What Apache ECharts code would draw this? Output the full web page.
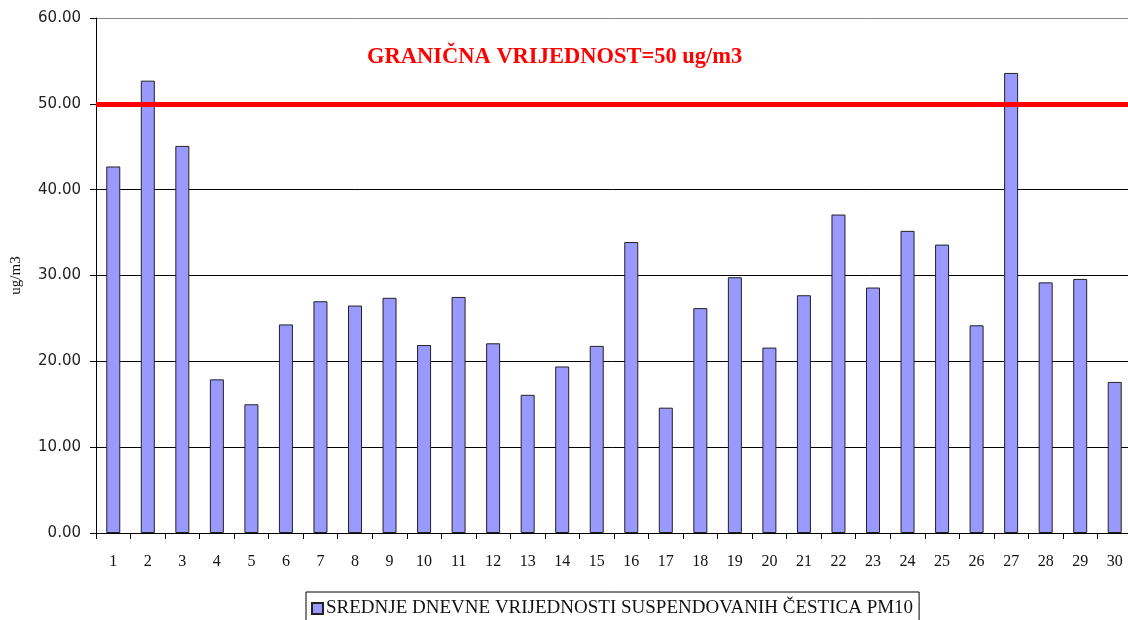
<!DOCTYPE html>
<html>
<head>
<meta charset="utf-8">
<title>PM10</title>
<script src="https://cdn.jsdelivr.net/npm/echarts@6/dist/echarts.min.js"></script>
<style>
  html, body { margin: 0; padding: 0; background: #fff; }
  #chart { width: 1128px; height: 620px; }
</style>
</head>
<body>
<div id="chart"></div>
<script>
// days of the month
var days = [];
for (var d = 1; d <= 30; d++) days.push(String(d));

// daily mean PM10 (ug/m3)
var pm10 = [
  42.7, 52.7, 45.1, 17.9, 15.0, 24.3, 27.0, 26.5, 27.4, 21.9,
  27.5, 22.1, 16.1, 19.4, 21.8, 33.9, 14.6, 26.2, 29.8, 21.6,
  27.7, 37.1, 28.6, 35.2, 33.6, 24.2, 53.6, 29.2, 29.6, 17.6
];

var limitValue = 50;
var seriesName = "SREDNJE DNEVNE VRIJEDNOSTI SUSPENDOVANIH ČESTICA PM10";
var limitText = "GRANIČNA VRIJEDNOST=50 ug/m3";

var chart = echarts.init(document.getElementById("chart"));

chart.setOption({
  animation: false,
  backgroundColor: "#fff",
  title: {
    text: limitText,
    left: 367,
    top: 46,
    padding: 0,
    textStyle: {
      fontFamily: "Liberation Serif",
      fontWeight: "bold",
      fontSize: 22.5,
      color: "#ff0000"
    }
  },
  grid: {
    left: 96,
    top: 18,
    width: 1036,
    height: 515,
    outerBoundsMode: "none"
  },
  legend: {
    data: [seriesName],
    left: 306,
    top: 592,
    padding: [7, 6, 12, 5],
    borderColor: "#000",
    borderWidth: 1,
    borderRadius: 0,
    itemWidth: 11,
    itemHeight: 11,
    itemGap: 4,
    icon: "rect",
    textStyle: {
      fontFamily: "Liberation Serif",
      fontSize: 19,
      color: "#111",
      padding: [0, 0, 0, -2]
    }
  },
  xAxis: {
    type: "category",
    data: days,
    axisLine: { lineStyle: { color: "#000", width: 1 } },
    axisTick: {
      show: true,
      length: 6,
      lineStyle: { color: "#000" }
    },
    axisLabel: {
      margin: 21,
      fontFamily: "Liberation Serif",
      fontSize: 16,
      color: "#111"
    }
  },
  yAxis: {
    type: "value",
    min: 0,
    max: 60,
    interval: 10,
    name: "ug/m3",
    nameLocation: "middle",
    nameGap: 72,
    nameRotate: 90,
    nameTextStyle: {
      fontFamily: "Liberation Serif",
      fontSize: 15,
      color: "#111"
    },
    axisLine: { show: true, lineStyle: { color: "#000" } },
    axisTick: {
      show: true,
      length: 6,
      lineStyle: { color: "#000" }
    },
    axisLabel: {
      margin: 15,
      fontFamily: "DejaVu Sans",
      fontSize: 15,
      color: "#222",
      formatter: function (v) {
        return v.toFixed(2);
      }
    },
    splitLine: {
      show: true,
      lineStyle: {
        color: ["#000", "#000", "#000", "#000", "#000", "#000", "#888"],
        width: 1
      }
    }
  },
  series: [
    {
      name: seriesName,
      type: "bar",
      data: pm10,
      barWidth: 14,
      itemStyle: {
        color: "#9999ff",
        borderColor: "#222",
        borderWidth: 1
      },
      markLine: {
        silent: true,
        symbol: "none",
        label: { show: false },
        lineStyle: { color: "#ff0000", width: 5, type: "solid" },
        data: [{ yAxis: limitValue }]
      }
    }
  ]
});
</script>
</body>
</html>
